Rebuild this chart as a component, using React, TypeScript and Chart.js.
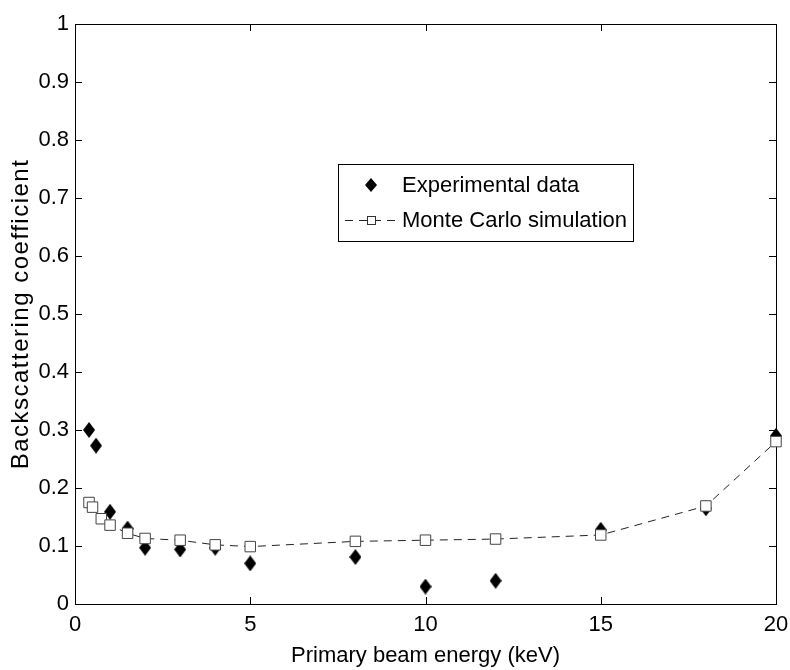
import React, { useEffect, useRef } from 'react';
import { Chart, registerables } from 'chart.js';

Chart.register(...registerables);

// ---- data ----
const expEnergy = [0.4, 0.6, 1, 1.5, 2, 3, 4, 5, 8, 10, 12, 15, 18, 20];
const expCoeff = [0.300, 0.273, 0.159, 0.130, 0.097, 0.094, 0.097, 0.070, 0.081, 0.030, 0.040, 0.128, 0.165, 0.290];
const mcEnergy = [0.4, 0.5, 0.75, 1, 1.5, 2, 3, 4, 5, 8, 10, 12, 15, 18, 20];
const mcCoeff = [0.175, 0.167, 0.147, 0.136, 0.122, 0.113, 0.110, 0.102, 0.099, 0.108, 0.110, 0.112, 0.119, 0.169, 0.280];
const xTicks = [0, 5, 10, 15, 20];
const yTicks = [0, 0.1, 0.2, 0.3, 0.4, 0.5, 0.6, 0.7, 0.8, 0.9, 1];
const xTitle = 'Primary beam energy (keV)';
const yTitle = 'Backscattering coefficient';
const legendLabels = ['Experimental data', 'Monte Carlo simulation'];

const FONT = '"Liberation Sans", Arial, Helvetica, sans-serif';

function makeDiamond(w: number, h: number): HTMLCanvasElement {
  const c = document.createElement('canvas');
  c.width = w;
  c.height = h;
  const g = c.getContext('2d')!;
  g.fillStyle = '#000';
  g.beginPath();
  g.moveTo(w / 2, 0);
  g.lineTo(w, h / 2);
  g.lineTo(w / 2, h);
  g.lineTo(0, h / 2);
  g.closePath();
  g.fill();
  return c;
}

const framePlugin = {
  id: 'matlabFrame',
  beforeDatasetsDraw(chart: any) {
    const { ctx, chartArea } = chart;
    const { left, right, top, bottom } = chartArea;
    const xs = chart.scales.x;
    const ys = chart.scales.y;
    const tl = 7;
    ctx.save();
    ctx.strokeStyle = '#000';
    ctx.lineWidth = 1;
    ctx.strokeRect(Math.round(left) + 0.5, Math.round(top) + 0.5, Math.round(right - left), Math.round(bottom - top));
    ctx.beginPath();
    xTicks.forEach((v) => {
      const px = Math.round(xs.getPixelForValue(v)) + 0.5;
      ctx.moveTo(px, bottom);
      ctx.lineTo(px, bottom - tl);
      ctx.moveTo(px, top);
      ctx.lineTo(px, top + tl);
    });
    yTicks.forEach((v) => {
      const py = Math.round(ys.getPixelForValue(v)) + 0.5;
      ctx.moveTo(left, py);
      ctx.lineTo(left + tl, py);
      ctx.moveTo(right, py);
      ctx.lineTo(right - tl, py);
    });
    ctx.stroke();
    ctx.restore();
  },
  afterDraw(chart: any) {
    const { ctx, chartArea } = chart;
    const { top, bottom } = chartArea;
    // y-axis title (letter-spaced)
    ctx.save();
    ctx.translate(28, (top + bottom) / 2);
    ctx.rotate(-Math.PI / 2);
    ctx.font = '24px ' + FONT;
    (ctx as any).letterSpacing = '1.5px';
    ctx.fillStyle = '#000';
    ctx.textAlign = 'center';
    ctx.textBaseline = 'alphabetic';
    ctx.fillText(yTitle, 0, 0);
    ctx.restore();

    // legend
    ctx.save();
    const bx = 338, by = 164, bw = 295, bh = 77;
    ctx.fillStyle = '#fff';
    ctx.fillRect(bx, by, bw, bh);
    ctx.strokeStyle = '#000';
    ctx.lineWidth = 1;
    ctx.strokeRect(bx + 0.5, by + 0.5, bw, bh);
    const r1 = 185, r2 = 220, mx = 371, tx = 402;
    ctx.fillStyle = '#000';
    ctx.beginPath();
    ctx.moveTo(mx, r1 - 7);
    ctx.lineTo(mx + 6, r1);
    ctx.lineTo(mx, r1 + 7);
    ctx.lineTo(mx - 6, r1);
    ctx.closePath();
    ctx.fill();
    ctx.strokeStyle = '#222';
    ctx.setLineDash([8, 6]);
    ctx.beginPath();
    ctx.moveTo(345, r2 + 0.5);
    ctx.lineTo(397, r2 + 0.5);
    ctx.stroke();
    ctx.setLineDash([]);
    ctx.fillStyle = '#fff';
    ctx.fillRect(mx - 4, r2 - 4, 9, 9);
    ctx.strokeStyle = '#333';
    ctx.strokeRect(mx - 4 + 0.5, r2 - 4 + 0.5, 8, 8);
    ctx.fillStyle = '#000';
    ctx.font = '22px ' + FONT;
    ctx.textAlign = 'left';
    ctx.textBaseline = 'middle';
    ctx.fillText(legendLabels[0], tx, r1 + 1);
    ctx.fillText(legendLabels[1], tx, r2 + 1);
    ctx.restore();
  },
};

export default function App() {
  const ref = useRef<HTMLCanvasElement | null>(null);

  useEffect(() => {
    if (!ref.current) return;
    const diamond = makeDiamond(12, 16);
    Chart.defaults.font.family = FONT;
    const chart = new Chart(ref.current, {
      type: 'scatter',
      data: {
        datasets: [
          {
            label: legendLabels[1],
            data: mcEnergy.map((x, i) => ({ x, y: mcCoeff[i] })),
            showLine: true,
            borderColor: '#222',
            borderWidth: 1,
            borderDash: [8, 6],
            tension: 0,
            pointStyle: 'rect',
            pointRadius: 7.4,
            pointBackgroundColor: '#fff',
            pointBorderColor: '#444',
            pointBorderWidth: 1,
            clip: false,
            order: 0,
          } as any,
          {
            label: legendLabels[0],
            data: expEnergy.map((x, i) => ({ x, y: expCoeff[i] })),
            showLine: false,
            pointStyle: diamond,
            pointRadius: 8,
            clip: false,
            order: 1,
          } as any,
        ],
      },
      options: {
        animation: false,
        responsive: true,
        maintainAspectRatio: false,
        layout: { padding: { top: 24, right: 14, left: 0, bottom: 0 } },
        plugins: {
          legend: { display: false },
          tooltip: { enabled: false },
        },
        scales: {
          x: {
            type: 'linear',
            min: 0,
            max: 20,
            afterBuildTicks: (s: any) => {
              s.ticks = xTicks.map((v) => ({ value: v }));
            },
            afterFit: (s: any) => {
              s.height = 66;
              s.paddingLeft = 0;
              s.paddingRight = 0;
            },
            grid: { display: false, drawTicks: false },
            border: { display: false },
            ticks: {
              padding: 8,
              color: '#000',
              font: { size: 22, family: FONT },
              maxRotation: 0,
              callback: (v: any) => String(v),
            },
            title: {
              display: true,
              text: xTitle,
              color: '#000',
              font: { size: 22, family: FONT },
              padding: { top: 0, bottom: 1 },
            },
          },
          y: {
            type: 'linear',
            min: 0,
            max: 1,
            afterBuildTicks: (s: any) => {
              s.ticks = yTicks.map((v) => ({ value: v }));
            },
            afterFit: (s: any) => {
              s.width = 75;
              s.paddingTop = 0;
              s.paddingBottom = 0;
            },
            grid: { display: false, drawTicks: false },
            border: { display: false },
            ticks: {
              padding: 6,
              color: '#000',
              font: { size: 22, family: FONT },
              callback: (v: any) => {
                const n = Number(v);
                if (n === 0) return '0';
                if (Math.abs(n - 1) < 1e-9) return '1';
                return n.toFixed(1);
              },
            },
          },
        },
      },
      plugins: [framePlugin],
    } as any);
    return () => chart.destroy();
  }, []);

  return (
    <div style={{ position: 'fixed', left: 0, top: 0, width: 790, height: 670, background: '#fff' }}>
      <canvas ref={ref} />
    </div>
  );
}
